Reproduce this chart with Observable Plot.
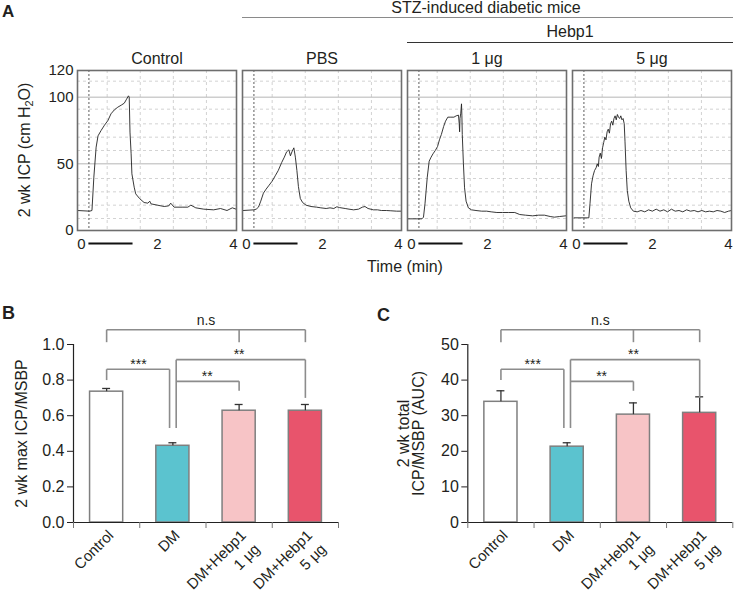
<!DOCTYPE html>
<html><head><meta charset="utf-8">
<script src="https://cdn.jsdelivr.net/npm/d3@7"></script>
<script src="https://cdn.jsdelivr.net/npm/@observablehq/plot@0.6"></script>
<style>
body{margin:0;background:#fff;}
#fig{position:relative;width:735px;height:592px;font-family:Arial,"Liberation Sans",sans-serif;color:#231f20;overflow:hidden;}
.abs{position:absolute;line-height:1;white-space:nowrap;}
</style></head><body><div id="fig"></div>
<script>
// ---------- Panel A: ICP traces (time in min, ICP in cm H2O) ----------
const traceConditions = ["Control", "PBS", "1 μg", "5 μg"];
const controlTrace = [[-0.1,15],[0.22,14.5],[0.28,15],[0.33,40],[0.39,62.5],[0.44,71],[0.52,75],[0.61,79],[0.7,82.5],[0.78,87.5],[0.87,90.5],[0.96,92.5],[1.05,94],[1.13,95.5],[1.18,98],[1.24,101],[1.26,100],[1.28,73.8],[1.31,57.5],[1.33,42.5],[1.39,32.5],[1.43,27.5],[1.53,24],[1.65,21],[1.75,20.5],[1.8,22],[1.83,20],[2.0,19],[2.18,18],[2.3,18.5],[2.35,20.5],[2.44,17.5],[2.65,17.5],[2.8,17.5],[2.88,19],[3.01,17],[3.22,16],[3.48,15.5],[3.66,16.5],[3.83,15],[3.97,17],[4.07,16]];
const pbsTrace = [[-0.08,15],[0.2,15.5],[0.26,16],[0.32,17.5],[0.38,22],[0.45,28],[0.52,31],[0.6,34],[0.68,37],[0.76,41],[0.84,45],[0.93,51],[1.0,55],[1.06,59],[1.12,60.5],[1.16,56],[1.2,59],[1.25,62],[1.29,55],[1.33,45],[1.37,33],[1.42,24],[1.48,21],[1.57,19],[1.7,18],[1.85,17.5],[1.96,17],[2.1,16.5],[2.2,17],[2.3,16.5],[2.38,17.8],[2.45,17.2],[2.6,16.5],[2.7,16],[2.82,15.5],[2.95,16],[3.05,17.5],[3.12,18],[3.2,16.5],[3.34,15.5],[3.45,15.5],[3.55,15],[3.68,15],[3.8,14.8],[3.95,14.5],[4.07,14.5]];
const hebp1ugTrace = [[-0.08,8.75],[0.28,8.75],[0.32,10],[0.36,20],[0.42,40],[0.47,52],[0.52,55],[0.57,57.5],[0.63,60],[0.69,63],[0.74,68],[0.79,72],[0.85,78],[0.9,82],[0.96,85],[1.04,85],[1.12,85],[1.18,86],[1.24,86.5],[1.26,80],[1.27,74],[1.28,84],[1.3,88],[1.32,95],[1.33,86],[1.34,72],[1.37,50],[1.4,32],[1.44,22],[1.5,17],[1.58,15.5],[1.7,15],[1.85,14.5],[1.98,14.5],[2.1,14],[2.25,13.5],[2.4,13.5],[2.55,13.5],[2.72,13.5],[2.85,12],[3.0,11.5],[3.19,11],[3.35,11.5],[3.5,11.5],[3.65,10.5],[3.76,10],[3.9,10.5],[4.06,11]];
const hebp5ugTrace = [[-0.06,9.5],[0.33,9.5],[0.36,20],[0.4,35],[0.44,41],[0.48,45],[0.52,47],[0.55,50],[0.58,48],[0.6,55],[0.63,58],[0.66,54],[0.69,62],[0.72,66],[0.75,70],[0.78,68],[0.81,74],[0.84,76],[0.87,73],[0.9,80],[0.93,82],[0.96,79],[0.99,84],[1.02,86],[1.05,83],[1.08,87],[1.11,85],[1.14,84],[1.17,86],[1.2,83],[1.23,84],[1.26,80],[1.28,67],[1.31,45],[1.34,30],[1.38,22],[1.43,17],[1.5,14.5],[1.6,14],[1.7,15],[1.8,14],[1.9,15.5],[2.0,14.5],[2.1,16],[2.2,14.5],[2.3,15.5],[2.4,14],[2.5,16],[2.6,14.5],[2.7,15],[2.8,14],[2.9,15.5],[3.0,14.5],[3.1,15],[3.2,14],[3.3,15],[3.4,14],[3.5,14.5],[3.6,14],[3.7,15],[3.8,14.5],[3.9,13.5],[4.0,14.5],[4.08,15]];
const stimulation = [0.2, 1.36];          // electrical stimulation period (min)
const traceTicksX = [0, 2, 4];
const traceTicksY = [0, 50, 100, 120];
const recorderGridX = [0.68, 1.55, 2.42, 3.29];
const recorderGridMinorY = [9, 19, 29, 39, 60, 70, 80, 91, 112];
const recorderGridMajorY = [50, 100];

// ---------- Panels B & C: bar charts ----------
const groups = ["Control", "DM", "DM+Hebp1\n1 μg", "DM+Hebp1\n5 μg"];
const maxRatio = [0.735, 0.431, 0.628, 0.628];
const maxRatioErr = [0.018, 0.017, 0.035, 0.035];
const aucRatio = [33.9, 21.3, 30.3, 30.8];
const aucRatioErr = [3.1, 1.1, 3.3, 4.5];
const barColors = ["#ffffff", "#5bc3cf", "#f7c4c6", "#e8546c"];
const ticksB = [0, 0.2, 0.4, 0.6, 0.8, 1.0];
const ticksC = [0, 10, 20, 30, 40, 50];

// significance brackets (levels as fraction of the axis maximum)
const brackets = [
  {label: "n.s", x1: 0, x2: 3, level: 1.083, drops: [[0, 1.013], [2, 1.013], [3, 1.013]], tx: 1.5, ty: 1.135},
  {label: "***", x1: 0, x2: 0.95, level: 0.861, drops: [[0, 0.8], [0.95, 0.531]], tx: 0.48, ty: 0.885},
  {label: "**", x1: 1.05, x2: 3, level: 0.915, drops: [[1.05, 0.531], [3, 0.7]], tx: 2.0, ty: 0.943},
  {label: "**", x1: 1.05, x2: 2, level: 0.793, drops: [[2, 0.74]], tx: 1.52, ty: 0.82}
];

const fig = document.getElementById("fig");
const baseStyle = {fontFamily: "Arial, 'Liberation Sans', sans-serif", fontSize: "15px", color: "#231f20", background: "transparent"};

function place(el, left, top) {
  el.style.position = "absolute";
  el.style.left = left + "px";
  el.style.top = top + "px";
  fig.append(el);
}
function html(text, css) {
  const d = document.createElement("div");
  d.className = "abs";
  d.innerHTML = text;
  Object.assign(d.style, css);
  fig.append(d);
  return d;
}

// ---------- Panel A ----------
const traceSeries = [controlTrace, pbsTrace, hebp1ugTrace, hebp5ugTrace];
const traceRows = traceConditions.flatMap((c, k) => traceSeries[k].map(([t, v]) => ({cond: c, t, v})));

const panelA = Plot.plot({
  width: 735, height: 220, marginTop: 30, marginBottom: 30, marginLeft: 76, marginRight: 2,
  style: baseStyle,
  fx: {domain: traceConditions, paddingInner: 0.035, paddingOuter: 0, axis: null, label: null},
  x: {domain: [-0.1, 4.08], ticks: traceTicksX, tickFormat: d3.format("d"), tickSize: 0, tickPadding: 8, label: null},
  y: {domain: [0, 120], ticks: traceTicksY, tickFormat: d3.format("d"), tickSize: 0, tickPadding: 4, label: null},
  marks: [
    Plot.ruleY(recorderGridMinorY, {stroke: "#c8c8c8", strokeDasharray: "3,3", strokeWidth: 0.8}),
    Plot.ruleX(recorderGridX, {stroke: "#c8c8c8", strokeDasharray: "3,3", strokeWidth: 0.8}),
    Plot.ruleY(recorderGridMajorY, {stroke: "#b5b5b5", strokeWidth: 1}),
    Plot.ruleX([stimulation[0]], {stroke: "#333", strokeDasharray: "2,2", strokeWidth: 0.8}),
    Plot.line(traceRows, {fx: "cond", x: "t", y: "v", stroke: "#222", strokeWidth: 0.9}),
    Plot.frame({stroke: "#6e6e6e", strokeWidth: 1.6}),
    Plot.ruleY([stimulation], {y: 0, x1: d => d[0], x2: d => d[1], dy: 13, stroke: "#111", strokeWidth: 2}),
    Plot.text(traceConditions, {fx: d => d, text: d => d, frameAnchor: "top", lineAnchor: "middle", textAnchor: "middle", dy: -12, fontSize: 16})
  ]
});
place(panelA, 0, 40);

// ---------- Panels B & C ----------
function barPanel({values, errors, ymax, yticks, fmt, ylabel, width, marginLeft, marginRight, labelDx}) {
  const rows = groups.map((g, i) => ({i, g, v: values[i], e: errors[i], c: barColors[i]}));
  const segs = [];
  for (const b of brackets) {
    segs.push({x1: b.x1, x2: b.x2, y1: b.level * ymax, y2: b.level * ymax});
    for (const [x, y] of b.drops) segs.push({x1: x, x2: x, y1: b.level * ymax, y2: y * ymax});
  }
  return Plot.plot({
    width, height: 292, marginTop: 44, marginBottom: 70, marginLeft, marginRight,
    style: {...baseStyle, fontSize: "16px"},
    color: {type: "identity"},
    x: {domain: [-0.5, 3.5]},
    y: {domain: [0, ymax]},
    marks: [
      Plot.rectY(rows, {x1: d => d.i - 0.25, x2: d => d.i + 0.25, y1: 0, y2: "v", fill: "c", stroke: "#7f7f7f", strokeWidth: 1.5}),
      Plot.ruleX(rows, {x: "i", y1: "v", y2: d => d.v + d.e, stroke: "#333", strokeWidth: 1.3}),
      Plot.ruleY(rows, {y: d => d.v + d.e, x1: d => d.i - 0.06, x2: d => d.i + 0.06, stroke: "#333", strokeWidth: 1.3}),
      Plot.link(segs, {x1: "x1", y1: "y1", x2: "x2", y2: "y2", stroke: "#8c8c8c", strokeWidth: 1.6}),
      Plot.text(brackets, {x: "tx", y: d => d.ty * ymax, text: "label", fontSize: 14}),
      Plot.ruleX([-0.5], {y1: 0, y2: ymax, stroke: "#222", strokeWidth: 1.2}),
      Plot.ruleY([0], {x1: -0.5, x2: 3.5, stroke: "#222", strokeWidth: 1.2}),
      Plot.axisY({ticks: yticks, tickFormat: fmt, tickSize: 6, tickPadding: 3, fontSize: 16, label: null}),
      Plot.axisX({ticks: [-0.5, 0.5, 1.5, 2.5, 3.5], tickSize: 6, stroke: "#777", tickFormat: () => "", label: null}),
      Plot.text(rows, {x: "i", y: 0, text: "g", rotate: -45, textAnchor: "end", lineAnchor: "top", dx: -2, dy: 4, fontSize: 15, lineHeight: 1.3}),
      Plot.text([ylabel], {frameAnchor: "left", text: d => d, rotate: -90, textAnchor: "middle", lineAnchor: "middle", dx: labelDx, fontSize: 16, lineHeight: 0.95})
    ]
  });
}

const panelB = barPanel({values: maxRatio, errors: maxRatioErr, ymax: 1, yticks: ticksB, fmt: d3.format(".1f"),
  ylabel: "2 wk max ICP/MSBP", width: 360, marginLeft: 73, marginRight: 22, labelDx: -51});
place(panelB, 0, 300);

const panelC = barPanel({values: aucRatio, errors: aucRatioErr, ymax: 50, yticks: ticksC, fmt: d3.format("d"),
  ylabel: "2 wk total\nICP/MSBP (AUC)", width: 375, marginLeft: 107.3, marginRight: 2.7, labelDx: -56});
place(panelC, 360, 300);

// ---------- annotations ----------
html("A", {left: "2px", top: "3px", fontSize: "17px", fontWeight: "bold"});
html("B", {left: "2px", top: "304px", fontSize: "18px", fontWeight: "bold"});
html("C", {left: "377px", top: "306px", fontSize: "18px", fontWeight: "bold"});
html("STZ-induced diabetic mice", {left: "486px", top: "0px", fontSize: "16px", transform: "translateX(-50%)"});
html("", {left: "242px", top: "16.5px", width: "491px", height: "0", borderTop: "1.5px solid #8a8a8a"});
html("Hebp1", {left: "570px", top: "23.5px", fontSize: "16px", transform: "translateX(-50%)"});
html("", {left: "407px", top: "42px", width: "326px", height: "0", borderTop: "1px solid #333"});
html("Time (min)", {left: "405px", top: "259px", fontSize: "16px", transform: "translateX(-50%)"});
html("2 wk ICP (cm H<sub style='font-size:11px;vertical-align:-3px;line-height:0'>2</sub>O)", {left: "25px", top: "150px", fontSize: "16px", transform: "translate(-50%,-50%) rotate(-90deg)"});
</script></body></html>
